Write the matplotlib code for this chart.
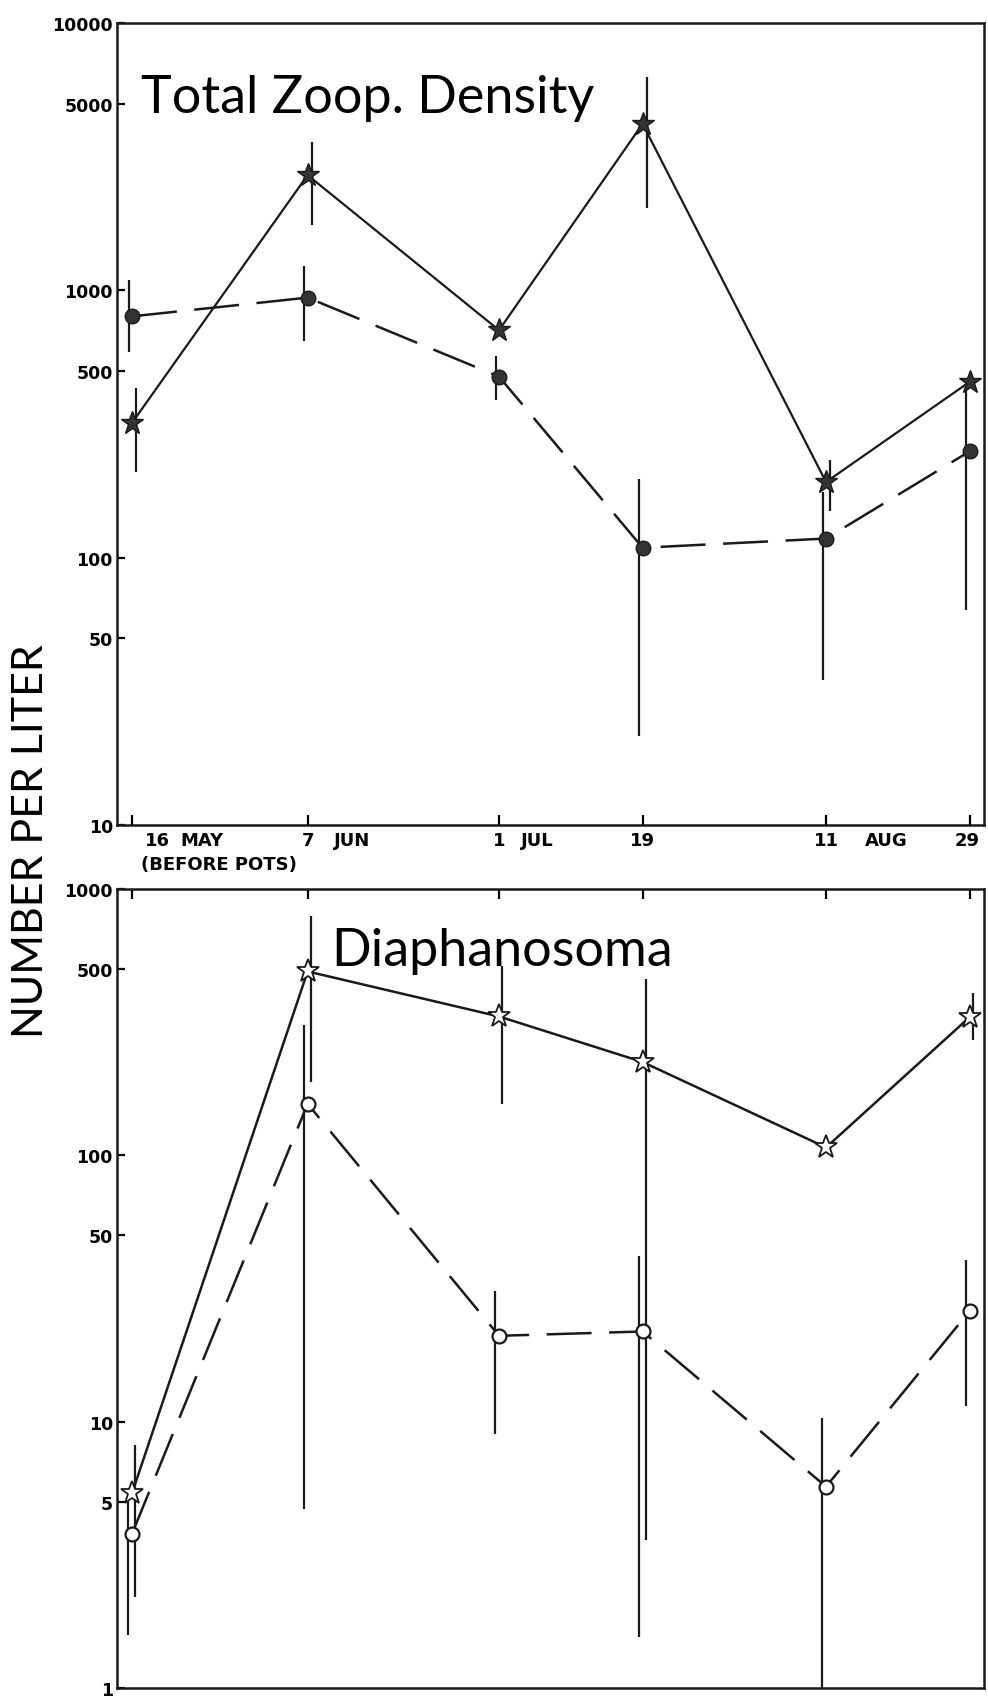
import numpy as np
import matplotlib
matplotlib.use('Agg')
from matplotlib import pyplot as plt
from matplotlib.ticker import NullLocator

# sampling dates, as days after 16 May
days = np.array([0, 22, 46, 64, 87, 105])
day_labels = ['16', '7', '1', '19', '11', '29']
month_labels = ['MAY', 'JUN', 'JUL', '', 'AUG', '']

# Total zooplankton density (number per liter)
total_star = np.array([320, 2700, 710, 4200, 192, 455])
total_star_lo = np.array([210, 1750, np.nan, 2030, 150, np.nan])
total_star_hi = np.array([430, 3600, np.nan, 6300, 232, np.nan])
total_dot = np.array([800, 940, 476, 109, 118, 250])
total_dot_lo = np.array([590, 645, 388, 21.6, 34.8, 64])
total_dot_hi = np.array([1090, 1235, 570, 197, 176, 434])

# Diaphanosoma (number per liter)
diaph_star = np.array([5.4, 490, 332, 224, 107, 330])
diaph_star_lo = np.array([2.2, 188, 156, 3.6, np.nan, 272])
diaph_star_hi = np.array([8.2, 790, 513, 459, np.nan, 406])
diaph_dot = np.array([3.8, 156, 21, 21.8, 5.7, 26])
diaph_dot_lo = np.array([1.58, 4.7, 9.0, 1.55, 1.0, 11.4])
diaph_dot_hi = np.array([5.1, 308, 31, 41.8, 10.3, 40.3])

ink = '#1a1a1a'


def errbars(ax, x, lo, hi):
    ok = ~np.isnan(lo)
    ax.vlines(x[ok], lo[ok], hi[ok], color=ink, lw=1.6, clip_on=False)


def style_axis(ax, ylo, yhi, yticks):
    ax.set_yscale('log')
    ax.set_ylim(ylo, yhi)
    ax.set_xlim(-1.9, 106.8)
    ax.set_yticks(yticks, [str(t) for t in yticks])
    ax.yaxis.set_minor_locator(NullLocator())
    ax.xaxis.set_minor_locator(NullLocator())
    ax.set_xticks(days)
    ax.tick_params(axis='y', direction='in', length=6, width=1.6, pad=3,
                   labelsize=12.5)
    for lab in ax.get_yticklabels():
        lab.set_fontweight('bold')
    for s in ax.spines.values():
        s.set_linewidth(1.8)
        s.set_color(ink)


fig = plt.figure(figsize=(9.88, 16.99), dpi=100)
ax1 = fig.add_axes([0.1184, 0.5138, 0.8775, 0.4720])
ax2 = fig.add_axes([0.1184, 0.0059, 0.8775, 0.4703])

# --- top panel ---
style_axis(ax1, 10, 10000, [10, 50, 100, 500, 1000, 5000, 10000])
ax1.tick_params(axis='x', direction='in', bottom=True, top=False,
                labelbottom=False, length=7, width=1.6)
ax1.plot(days, total_star, '-', color=ink, lw=1.6, marker='*', ms=17,
         mfc='#333333', mec=ink, clip_on=False, zorder=3)
ax1.plot(days, total_dot, color=ink, lw=1.8, dashes=(18, 7), marker='o',
         ms=10.5, mfc='#333333', mec=ink, clip_on=False, zorder=3)
errbars(ax1, days + 0.5, total_star_lo, total_star_hi)
errbars(ax1, days - 0.4, total_dot_lo, total_dot_hi)
ax1.text(0.0277, 0.889, 'Total Zoop. Density', transform=ax1.transAxes,
         fontsize=37.5, family='Lato', va='baseline', ha='left')

# date labels under the top panel
num_dx = [25, 0, 0, 0, 0, -2]
month_dx = [48, 26, 22, 0, 39, 0]
for d, n, m, ndx, mdx in zip(days, day_labels, month_labels, num_dx, month_dx):
    ax1.annotate(n, xy=(d, 0), xycoords=('data', 'axes fraction'),
                 xytext=(ndx, -6), textcoords='offset pixels',
                 ha='center', va='top', fontsize=13, fontweight='bold')
    if m:
        ax1.annotate(m, xy=(d, 0), xycoords=('data', 'axes fraction'),
                     xytext=(mdx, -6), textcoords='offset pixels',
                     ha='left', va='top', fontsize=13, fontweight='bold')
ax1.annotate('(BEFORE POTS)', xy=(days[0], 0), xycoords=('data', 'axes fraction'),
             xytext=(9, -30), textcoords='offset pixels',
             ha='left', va='top', fontsize=13, fontweight='bold')

# --- bottom panel ---
style_axis(ax2, 1, 1000, [1, 5, 10, 50, 100, 500, 1000])
ax2.tick_params(axis='x', direction='in', bottom=False, top=True,
                labelbottom=False, labeltop=False, length=7, width=1.6)
ax2.plot(days, diaph_star, '-', color=ink, lw=1.8, marker='*', ms=17,
         mfc='white', mec=ink, mew=1.3, clip_on=False, zorder=3)
ax2.plot(days, diaph_dot, color=ink, lw=1.8, dashes=(18, 7), marker='o',
         ms=10, mfc='white', mec=ink, mew=1.6, clip_on=False, zorder=3)
errbars(ax2, days + 0.4, diaph_star_lo, diaph_star_hi)
errbars(ax2, days - 0.5, diaph_dot_lo, diaph_dot_hi)
ax2.text(0.247, 0.905, 'Diaphanosoma', transform=ax2.transAxes,
         fontsize=37.5, family='Lato', va='baseline', ha='left')

fig.text(31 / 988, 1 - 841 / 1699, 'NUMBER PER LITER', rotation=90,
         ha='center', va='center', fontsize=31, family='Lato')

fig.savefig('out.png', dpi=100)
